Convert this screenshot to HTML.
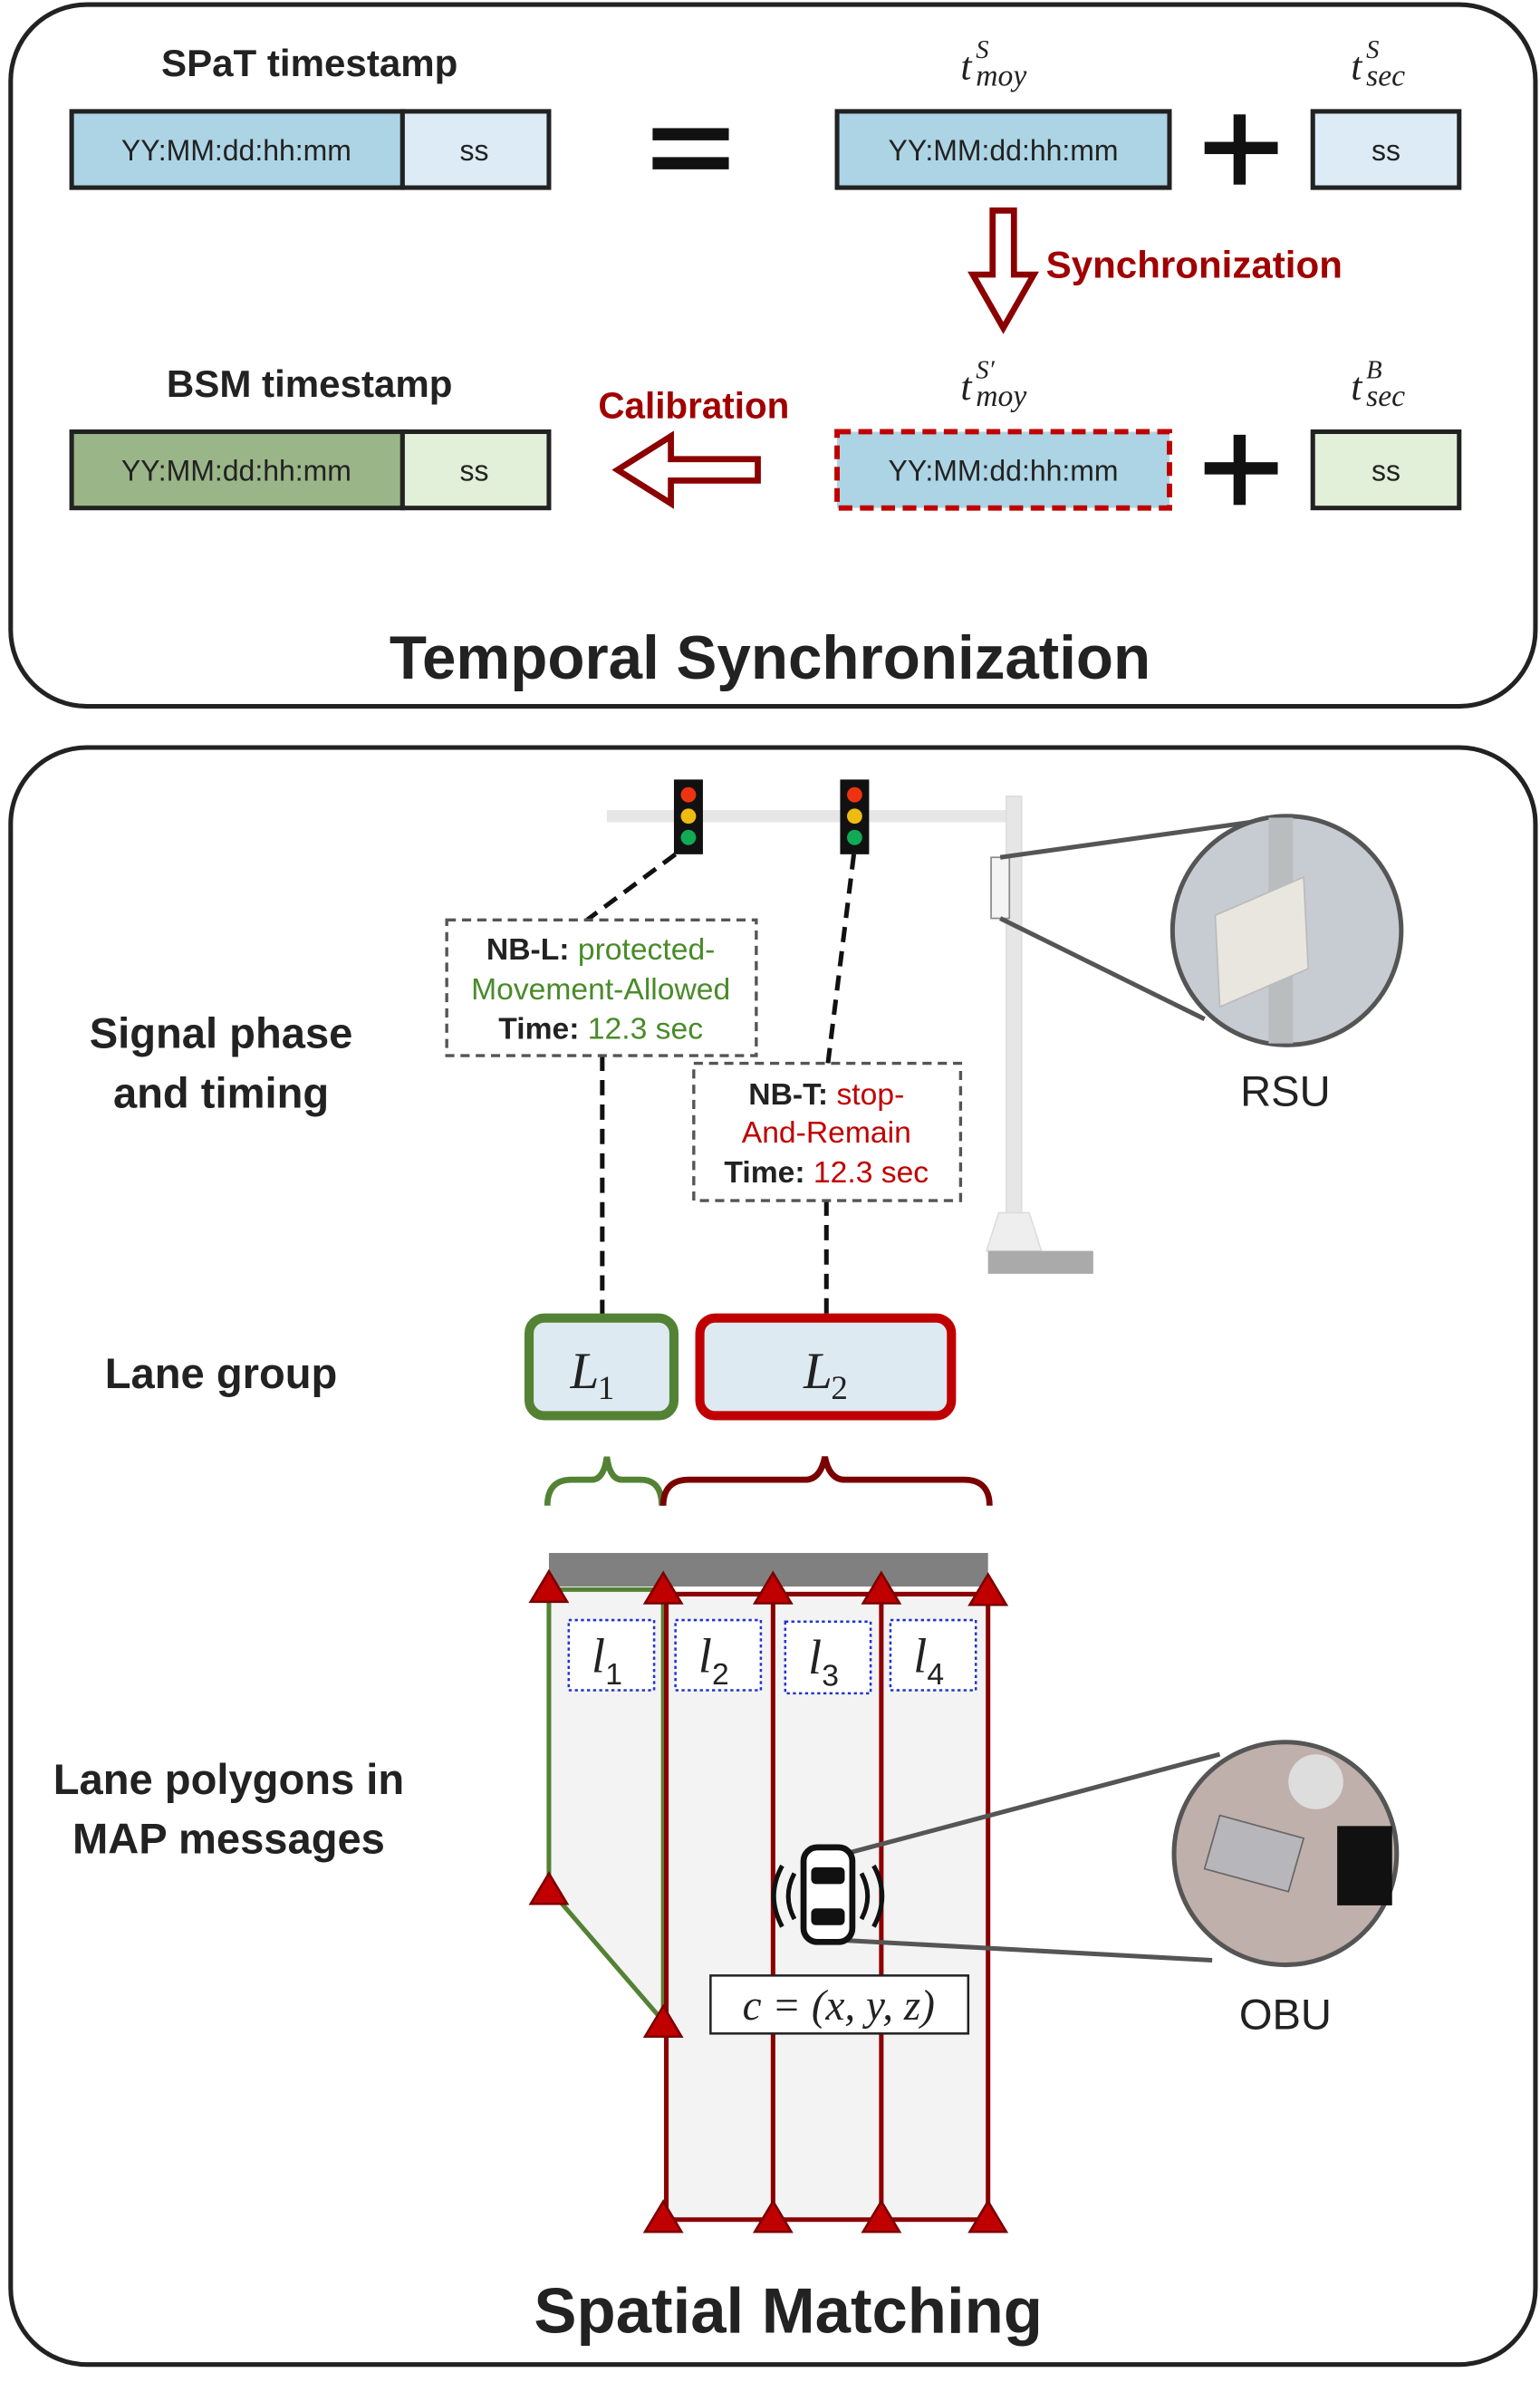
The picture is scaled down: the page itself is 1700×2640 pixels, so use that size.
<!DOCTYPE html>
<html><head><meta charset="utf-8"><style>
html,body{margin:0;padding:0;background:#fff}
svg{display:block}
.b{font-family:"Liberation Sans",sans-serif;font-weight:bold;fill:#222}
.n{font-family:"Liberation Sans",sans-serif;fill:#222}
.m{font-family:"Liberation Serif",serif;font-style:italic;fill:#222}
</style></head><body>
<svg width="1700" height="2640" viewBox="0 0 1010 1568" preserveAspectRatio="none" xmlns="http://www.w3.org/2000/svg">
<!-- top panel -->
<rect x="7" y="3" width="1000" height="460" rx="50" fill="#fff" stroke="#222" stroke-width="3"/>
<text class="b" x="203" y="50" font-size="25" text-anchor="middle">SPaT timestamp</text>
<rect x="47" y="73" width="217" height="50" fill="#acd4e4" stroke="#222" stroke-width="3"/>
<rect x="264" y="73" width="96" height="50" fill="#dcebf5" stroke="#222" stroke-width="3"/>
<text class="n" x="155" y="105" font-size="19" text-anchor="middle">YY:MM:dd:hh:mm</text>
<text class="n" x="311" y="105" font-size="19" text-anchor="middle">ss</text>
<rect x="428" y="84" width="50" height="8" fill="#111"/><rect x="428" y="103" width="50" height="8" fill="#111"/>
<rect x="549" y="73" width="218" height="50" fill="#acd4e4" stroke="#222" stroke-width="3"/>
<text class="n" x="658" y="105" font-size="19" text-anchor="middle">YY:MM:dd:hh:mm</text>
<rect x="790" y="93" width="48" height="8" fill="#111"/><rect x="809" y="75" width="8" height="46" fill="#111"/>
<rect x="861" y="73" width="96" height="50" fill="#dcebf5" stroke="#222" stroke-width="3"/>
<text class="n" x="909" y="105" font-size="19" text-anchor="middle">ss</text>
<text class="m" x="630" y="52" font-size="26">t</text><text class="m" x="640" y="38" font-size="17">S</text><text class="m" x="640" y="56" font-size="20">moy</text>
<text class="m" x="886" y="52" font-size="26">t</text><text class="m" x="896" y="38" font-size="17">S</text><text class="m" x="896" y="56" font-size="20">sec</text>
<!-- sync arrow -->
<path d="M651,138 H665 V180 H678 L658,215 L638,180 H651 Z" fill="#fff" stroke="#8b0000" stroke-width="4"/>
<text class="b" x="686" y="182" font-size="25" style="fill:#a00000">Synchronization</text>
<!-- row2 -->
<text class="b" x="203" y="260" font-size="25" text-anchor="middle">BSM timestamp</text>
<rect x="47" y="283" width="217" height="50" fill="#9ab587" stroke="#222" stroke-width="3"/>
<rect x="264" y="283" width="96" height="50" fill="#e2efd9" stroke="#222" stroke-width="3"/>
<text class="n" x="155" y="315" font-size="19" text-anchor="middle">YY:MM:dd:hh:mm</text>
<text class="n" x="311" y="315" font-size="19" text-anchor="middle">ss</text>
<text class="b" x="455" y="274" font-size="24" text-anchor="middle" style="fill:#a00000">Calibration</text>
<path d="M497,301 V315 H440 V330 L405,308 L440,286 V301 Z" fill="#fff" stroke="#8b0000" stroke-width="4"/>
<rect x="549" y="283" width="218" height="50" fill="#acd4e4" stroke="#c00000" stroke-width="3.5" stroke-dasharray="9,5"/>
<text class="n" x="658" y="315" font-size="19" text-anchor="middle">YY:MM:dd:hh:mm</text>
<rect x="790" y="303" width="48" height="8" fill="#111"/><rect x="809" y="285" width="8" height="46" fill="#111"/>
<rect x="861" y="283" width="96" height="50" fill="#e2efd9" stroke="#222" stroke-width="3"/>
<text class="n" x="909" y="315" font-size="19" text-anchor="middle">ss</text>
<text class="m" x="630" y="262" font-size="26">t</text><text class="m" x="640" y="248" font-size="17">S′</text><text class="m" x="640" y="266" font-size="20">moy</text>
<text class="m" x="886" y="262" font-size="26">t</text><text class="m" x="896" y="248" font-size="17">B</text><text class="m" x="896" y="266" font-size="20">sec</text>
<text class="b" x="505" y="445" font-size="40" text-anchor="middle">Temporal Synchronization</text>

<!-- bottom panel -->
<rect x="7" y="490" width="1000" height="1060" rx="50" fill="#fff" stroke="#222" stroke-width="3"/>
<text class="b" x="145" y="687" font-size="28" text-anchor="middle">Signal phase</text>
<text class="b" x="145" y="726" font-size="28" text-anchor="middle">and timing</text>
<text class="b" x="145" y="910" font-size="28" text-anchor="middle">Lane group</text>
<text class="b" x="150" y="1176" font-size="28" text-anchor="middle">Lane polygons in</text>
<text class="b" x="150" y="1215" font-size="28" text-anchor="middle">MAP messages</text>
<!-- pole -->
<rect x="398" y="531" width="268" height="8" fill="#e6e6e6"/>
<rect x="660" y="522" width="10" height="290" fill="#e6e6e6" stroke="#ddd"/>
<path d="M655,795 L675,795 L683,820 L647,820 Z" fill="#eee" stroke="#ddd"/>
<rect x="648" y="820" width="69" height="15" fill="#aaa"/>
<rect x="650" y="562" width="12" height="40" fill="#f4f4f4" stroke="#888"/>
<!-- lights -->
<rect x="442" y="511" width="19" height="49" fill="#111"/>
<circle cx="451.5" cy="521" r="5" fill="#e31"/><circle cx="451.5" cy="535" r="5" fill="#eb1"/><circle cx="451.5" cy="549" r="5" fill="#1a5"/>
<rect x="551" y="511" width="19" height="49" fill="#111"/>
<circle cx="560.5" cy="521" r="5" fill="#e31"/><circle cx="560.5" cy="535" r="5" fill="#eb1"/><circle cx="560.5" cy="549" r="5" fill="#1a5"/>
<!-- RSU circle -->
<line x1="656" y1="562" x2="820" y2="539" stroke="#555" stroke-width="3"/>
<line x1="656" y1="602" x2="790" y2="668" stroke="#555" stroke-width="3"/>
<circle cx="844" cy="610" r="75" fill="#c6ccd2" stroke="#555" stroke-width="3"/>
<rect x="832" y="536" width="16" height="148" fill="#b9bdc0"/>
<path d="M797,600 L855,575 L858,635 L800,660 Z" fill="#e8e6de" stroke="#bbb"/>
<text class="n" x="843" y="725" font-size="28" text-anchor="middle">RSU</text>
<!-- dashes -->
<g stroke="#111" stroke-width="3" stroke-dasharray="10,6" fill="none">
<line x1="443" y1="560" x2="385" y2="603"/>
<line x1="560" y1="560" x2="543" y2="697"/>
<line x1="395" y1="692" x2="395" y2="865"/>
<line x1="542" y1="787" x2="542" y2="865"/>
</g>
<rect x="293" y="603" width="203" height="89" fill="#fff" stroke="#555" stroke-width="2" stroke-dasharray="6,4"/>
<text x="394" y="629" font-size="20" text-anchor="middle" font-family="Liberation Sans, sans-serif"><tspan font-weight="bold" fill="#222">NB-L: </tspan><tspan fill="#4a8a2a">protected-</tspan></text>
<text x="394" y="655" font-size="20" text-anchor="middle" font-family="Liberation Sans, sans-serif" fill="#4a8a2a">Movement-Allowed</text>
<text x="394" y="681" font-size="20" text-anchor="middle" font-family="Liberation Sans, sans-serif"><tspan font-weight="bold" fill="#222">Time: </tspan><tspan fill="#4a8a2a">12.3 sec</tspan></text>
<rect x="455" y="697" width="175" height="90" fill="#fff" stroke="#555" stroke-width="2" stroke-dasharray="6,4"/>
<text x="542" y="724" font-size="20" text-anchor="middle" font-family="Liberation Sans, sans-serif"><tspan font-weight="bold" fill="#222">NB-T: </tspan><tspan fill="#c00000">stop-</tspan></text>
<text x="542" y="749" font-size="20" text-anchor="middle" font-family="Liberation Sans, sans-serif" fill="#c00000">And-Remain</text>
<text x="542" y="775" font-size="20" text-anchor="middle" font-family="Liberation Sans, sans-serif"><tspan font-weight="bold" fill="#222">Time: </tspan><tspan fill="#c00000">12.3 sec</tspan></text>
<!-- lane groups -->
<rect x="347" y="864" width="95" height="64" rx="10" fill="#deeaf1" stroke="#548235" stroke-width="6"/>
<text class="m" x="374" y="910" font-size="34">L</text><text class="m" x="392" y="917" font-size="22" style="font-style:normal">1</text>
<rect x="459" y="864" width="165" height="64" rx="10" fill="#deeaf1" stroke="#c00000" stroke-width="6"/>
<text class="m" x="527" y="910" font-size="34">L</text><text class="m" x="545" y="917" font-size="22" style="font-style:normal">2</text>
<!-- braces -->
<path d="M359,987 Q359,970 375,970 H388 Q396,970 398,955 Q400,970 408,970 H420 Q434,970 434,987" fill="none" stroke="#548235" stroke-width="4"/>
<path d="M435,987 Q435,970 452,970 H528 Q538,970 541,955 Q544,970 554,970 H632 Q649,970 649,987" fill="none" stroke="#7a0000" stroke-width="4"/>
<!-- lanes -->
<rect x="360" y="1018" width="288" height="22" fill="#808080"/>
<rect x="435" y="1043" width="213" height="412" fill="#f3f3f3"/>
<path d="M360,1042 L435,1042 L435,1325 L360,1238 Z" fill="#f3f3f3" stroke="#548235" stroke-width="3"/>
<g stroke="#8b0000" stroke-width="3">
<line x1="437" y1="1045" x2="648" y2="1045"/>
<line x1="437" y1="1040" x2="437" y2="1455"/>
<line x1="507" y1="1040" x2="507" y2="1455"/>
<line x1="578" y1="1040" x2="578" y2="1455"/>
<line x1="648" y1="1040" x2="648" y2="1455"/>
<line x1="437" y1="1455" x2="648" y2="1455"/>
</g>
<g fill="#c00000" stroke="#7a0000" stroke-width="1.5">
<path d="M360,1030 L372,1050 L348,1050 Z"/>
<path d="M435,1031 L447,1051 L423,1051 Z"/>
<path d="M507,1031 L519,1051 L495,1051 Z"/>
<path d="M578,1031 L590,1051 L566,1051 Z"/>
<path d="M648,1032 L660,1052 L636,1052 Z"/>
<path d="M360,1228 L372,1248 L348,1248 Z"/>
<path d="M435,1315 L447,1335 L423,1335 Z"/>
<path d="M435,1443 L447,1463 L423,1463 Z"/>
<path d="M507,1443 L519,1463 L495,1463 Z"/>
<path d="M578,1443 L590,1463 L566,1463 Z"/>
<path d="M648,1443 L660,1463 L636,1463 Z"/>
</g>
<g fill="#fff" stroke="#2233cc" stroke-width="1.5" stroke-dasharray="2,2">
<rect x="373" y="1062" width="56" height="46"/><rect x="443" y="1062" width="56" height="46"/>
<rect x="515" y="1063" width="56" height="47"/><rect x="584" y="1062" width="56" height="46"/>
</g>
<g>
<text class="m" x="388" y="1096" font-size="32">l</text><text class="n" x="397" y="1104" font-size="20">1</text>
<text class="m" x="458" y="1096" font-size="32">l</text><text class="n" x="467" y="1104" font-size="20">2</text>
<text class="m" x="530" y="1097" font-size="32">l</text><text class="n" x="539" y="1105" font-size="20">3</text>
<text class="m" x="599" y="1096" font-size="32">l</text><text class="n" x="608" y="1104" font-size="20">4</text>
</g>
<!-- car -->
<line x1="555" y1="1215" x2="800" y2="1150" stroke="#555" stroke-width="3"/>
<line x1="555" y1="1272" x2="795" y2="1285" stroke="#555" stroke-width="3"/>
<rect x="527" y="1211" width="32" height="62" rx="9" fill="#fff" stroke="#111" stroke-width="4"/>
<rect x="532" y="1224" width="22" height="11" rx="3" fill="#111"/>
<rect x="532" y="1251" width="22" height="11" rx="3" fill="#111"/>
<path d="M521,1228 Q513,1243 521,1258 M513,1223 Q502,1243 513,1263 M565,1228 Q573,1243 565,1258 M573,1223 Q584,1243 573,1263" fill="none" stroke="#111" stroke-width="3"/>
<rect x="466" y="1295" width="169" height="38" fill="#fff" stroke="#222" stroke-width="1.5"/>
<text class="m" x="550" y="1324" font-size="28" text-anchor="middle">c = (x, y, z)</text>
<!-- OBU -->
<circle cx="843" cy="1215" r="73" fill="#bfb0ab" stroke="#555" stroke-width="3"/>
<circle cx="863" cy="1168" r="18" fill="#ddd"/>
<path d="M800,1190 L855,1205 L845,1240 L790,1225 Z" fill="#b7b7bb" stroke="#666"/>
<rect x="877" y="1197" width="36" height="52" fill="#111"/>
<text class="n" x="843" y="1330" font-size="28" text-anchor="middle">OBU</text>
<text class="b" x="517" y="1529" font-size="42" text-anchor="middle">Spatial Matching</text>
</svg>
</body></html>
